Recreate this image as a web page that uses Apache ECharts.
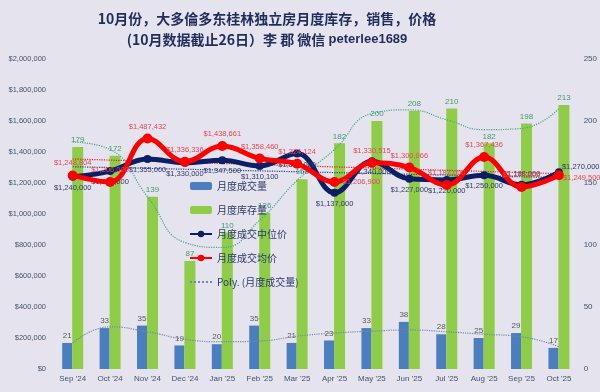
<!DOCTYPE html>
<html><head><meta charset="utf-8">
<script src="https://cdn.jsdelivr.net/npm/echarts@6/dist/echarts.min.js"></script>
<style>html,body{margin:0;padding:0;background:#e5e3ee;}#c{width:600px;height:392px;}</style>
</head><body><div id="c"></div>
<script>
var categories = ["Sep '24","Oct '24","Nov '24","Dec '24","Jan '25","Feb '25","Mar '25","Apr '25","May '25","Jun '25","Jul '25","Aug '25","Sep '25","Oct '25"];
var volume = [21,33,35,19,20,35,21,23,33,38,28,25,29,17];
var inventory = [179,172,139,87,110,126,153,182,200,208,210,182,198,213];
var medianPrice = [1240000,1277000,1355000,1330000,1347500,1310100,1390000,1137000,1340000,1227000,1220000,1250000,1188000,1270000];
var avgPrice = [1248804,1206000,1487432,1336336,1438661,1358460,1324124,1206900,1330515,1300066,1187000,1367436,1174000,1249500];
var volumePoly = [21,34,30,24,22,22.5,26.5,29,30.5,31.5,30,28,26,18];
var inventoryPoly = [183,177,139,102,98,120,152,177,206,209,201,193,194,210];
var avgTrendEnds = [1355000,1260000];
var medianTrendEnds = [1305000,1235000];
var leftTicks = [0,2000000,200000];
var rightTicks = [0,250,50];

function ends(e){var a=categories.map(function(){return null;});a[0]=e[0];a[a.length-1]=e[1];return a;}
function money(v){return '$'+Math.round(v).toString().replace(/\B(?=(\d{3})+(?!\d))/g,',');}

var last = categories.length-1;
function medLabel(i){
  if(i===12) return {position:'top'};
  if(i===last) return {position:'right',distance:1,offset:[-2,-5]};
  return {position:'bottom'};
}
function avgLabel(i){
  if(i===last) return {position:'right',distance:1,offset:[-2,3]};
  if(i===7) return {position:'right'};
  return {position:'top'};
}

var F = 'Liberation Sans';
var chart = echarts.init(document.getElementById('c'));
chart.setOption({
  backgroundColor:'#e5e3ee',
  animation:false,
  title:{
    text:'{c|10月份，大多倫多东桂林独立房月度库存，销售，价格}\n{c|(10月数据截止26日）李 郡 微信 }{l|peterlee1689}',
    left:262, textAlign:'center', top:3,
    textStyle:{
      rich:{
        c:{fontFamily:'Noto Sans CJK SC',fontSize:14,fontWeight:'bold',color:'#1f2d5c',lineHeight:21},
        l:{fontFamily:'Liberation Sans',fontSize:13,fontWeight:'bold',color:'#1f2d5c',lineHeight:21}
      }
    }
  },
  legend:{
    data:['月度成交量','月度库存量','月度成交中位价','月度成交均价',{name:'Poly. (月度成交量)',itemStyle:{opacity:0}}],
    orient:'vertical', left:184, top:176, itemGap:14, itemWidth:22, itemHeight:8,
    textStyle:{fontFamily:'Noto Sans CJK SC',fontSize:10,color:'#2b3a67'}
  },
  grid:{left:54,right:22,top:59,bottom:23},
  xAxis:{type:'category',data:categories,axisLine:{show:false},axisTick:{show:false},
    axisLabel:{fontFamily:F,fontSize:8,color:'#44546a',margin:6}},
  yAxis:[
    {type:'value',min:leftTicks[0],max:leftTicks[1],interval:leftTicks[2],splitLine:{show:false},
     axisLabel:{fontFamily:F,fontSize:7.5,color:'#44546a',margin:8,formatter:function(v){return money(v);}}},
    {type:'value',min:rightTicks[0],max:rightTicks[1],interval:rightTicks[2],splitLine:{show:false},
     axisLabel:{fontFamily:F,fontSize:8,color:'#44546a',margin:6}}
  ],
  series:[
    {name:'月度成交量',type:'bar',yAxisIndex:1,data:volume,barWidth:10,barGap:'0%',
     itemStyle:{color:'#4a7ebf'},
     label:{show:true,position:'top',fontFamily:F,fontSize:8,color:'#595959',distance:3}},
    {name:'月度库存量',type:'bar',yAxisIndex:1,data:inventory,barWidth:11,
     itemStyle:{color:'#8fcd48'},
     label:{show:true,position:'top',fontFamily:F,fontSize:8,color:'#3a9f6a',distance:3}},
    {name:'Poly. (月度成交量)',type:'line',yAxisIndex:1,data:volumePoly,smooth:true,symbol:'none',
     lineStyle:{color:'#7088ad',width:1.2,type:'dotted'},itemStyle:{color:'#7088ad'},z:3},
    {name:'库存趋势',type:'line',yAxisIndex:1,data:inventoryPoly,smooth:true,symbol:'none',
     lineStyle:{color:'#48a88a',width:1.2,type:'dotted'},z:3},
    {name:'中位价趋势',type:'line',yAxisIndex:0,data:ends(medianTrendEnds),connectNulls:true,symbol:'none',
     lineStyle:{color:'#2b3a8a',width:1.2,type:'dotted'},z:3},
    {name:'均价趋势',type:'line',yAxisIndex:0,data:ends(avgTrendEnds),connectNulls:true,symbol:'none',
     lineStyle:{color:'#e02020',width:1.2,type:'dotted'},z:3},
    {name:'月度成交中位价',type:'line',yAxisIndex:0,smooth:0.4,
     data:medianPrice.map(function(v,i){return {value:v,label:medLabel(i)};}),
     symbol:'circle',symbolSize:8,lineStyle:{color:'#0b1f66',width:5},itemStyle:{color:'#0b1f66'},z:5,
     label:{show:true,fontFamily:F,fontSize:7.5,color:'#2f3b6b',distance:3,formatter:function(p){return money(p.value);}}},
    {name:'月度成交均价',type:'line',yAxisIndex:0,smooth:0.4,
     data:avgPrice.map(function(v,i){return {value:v,label:avgLabel(i)};}),
     symbol:'circle',symbolSize:10,lineStyle:{color:'#ff0000',width:5},itemStyle:{color:'#ff0000'},z:6,
     label:{show:true,fontFamily:F,fontSize:7.5,color:'#e8474f',distance:3,formatter:function(p){return money(p.value);}}}
  ]
});
</script></body></html>
